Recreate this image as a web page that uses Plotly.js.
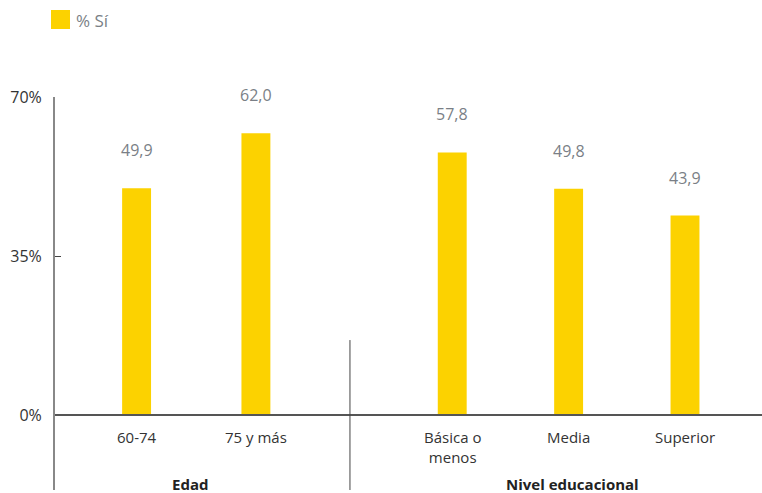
<!DOCTYPE html>
<html>
<head>
<meta charset="utf-8">
<script src="https://cdn.plot.ly/plotly-3.0.1.min.js"></script>
<style>
  html, body { margin: 0; padding: 0; background: #fff; }
  #chart { width: 762px; height: 493px; }
</style>
</head>
<body>
<div id="chart"></div>
<script>
// Share answering "Sí", by age group and by education level
const categories = ['60-74', '75 y más', 'Básica o<br>menos', 'Media', 'Superior'];
const values = [49.9, 62.0, 57.8, 49.8, 43.9];
const groupNames = ['Edad', 'Nivel educacional'];
const groupOf = [0, 0, 1, 1, 1];
const seriesName = '% Sí';
const yTickVals = [0, 35, 70];
const yTickText = ['0%', '35%', '70%'];

// layout geometry (slot positions along the x axis, with a gap between groups)
const xPos = [0, 1.015, 2.685, 3.675, 4.665];
const groupShift = [-6, 4];
const W = 762, H = 493;
const M = { l: 55, r: 0, t: 97, b: 3 };
const xRange = [-0.694, 5.32];
const yRange = [-16.5, 70];

const plotW = W - M.l - M.r, plotH = H - M.t - M.b;
const paperX = px => (px - M.l) / plotW;
const paperY = py => (H - M.b - py) / plotH;

const YELLOW = '#FCD200';
const FONT = 'Open Sans, sans-serif';

const fmt = v => v.toFixed(1).replace('.', ',');

const trace = {
  type: 'bar',
  x: xPos,
  y: values,
  width: 0.246,
  name: seriesName,
  marker: { color: YELLOW, line: { width: 0 } },
  hoverinfo: 'skip',
  showlegend: false
};

const annotations = [];

// value labels above bars
values.forEach((v, i) => {
  annotations.push({
    x: xPos[i], y: v, xref: 'x', yref: 'y',
    text: fmt(v), showarrow: false,
    yanchor: 'bottom', yshift: 25,
    font: { family: FONT, size: 16, color: '#7a7f86' }
  });
});

// category labels below the zero line
categories.forEach((c, i) => {
  annotations.push({
    x: xPos[i], y: 0, xref: 'x', yref: 'y',
    text: c, showarrow: false,
    yanchor: 'top', yshift: -10,
    font: { family: FONT, size: 15, color: '#333' }
  });
});

// group labels, centred under their categories
groupNames.forEach((g, gi) => {
  const xs = xPos.filter((_, i) => groupOf[i] === gi);
  const mid = (Math.min(...xs) + Math.max(...xs)) / 2;
  annotations.push({
    x: mid, y: paperY(484), xref: 'x', yref: 'paper',
    text: '<b>' + g + '</b>', showarrow: false,
    yanchor: 'middle', xshift: groupShift[gi],
    font: { family: FONT, size: 15, color: '#222' }
  });
});

// legend text
annotations.push({
  x: paperX(74), y: paperY(20), xref: 'paper', yref: 'paper',
  text: seriesName, showarrow: false,
  xanchor: 'left', yanchor: 'middle',
  font: { family: FONT, size: 17, color: '#7a7f86' }
});

const shapes = [
  // zero baseline
  { type: 'line', xref: 'paper', yref: 'y', x0: 0, x1: 1, y0: 0, y1: 0,
    line: { color: '#555', width: 2 } },
  // divider between the two groups
  { type: 'line', xref: 'x', yref: 'y', x0: 1.815, x1: 1.815, y0: yRange[0], y1: 16.5,
    line: { color: '#444', width: 1 } },
  // legend swatch
  { type: 'rect', xref: 'paper', yref: 'paper',
    x0: paperX(51), x1: paperX(70), y0: paperY(29), y1: paperY(10),
    fillcolor: YELLOW, line: { width: 0 } }
];

const layout = {
  width: W, height: H,
  margin: M,
  paper_bgcolor: '#fff', plot_bgcolor: '#fff',
  showlegend: false,
  font: { family: FONT },
  xaxis: {
    range: xRange, showgrid: false, zeroline: false, showline: false,
    showticklabels: false, ticks: '', fixedrange: true
  },
  yaxis: {
    range: yRange, showgrid: false, zeroline: false,
    showline: true, linecolor: '#888', linewidth: 2,
    tickvals: yTickVals, ticktext: yTickText,
    ticks: 'inside', ticklen: 6, tickwidth: 1, tickcolor: '#444',
    ticklabelstandoff: 8,
    tickfont: { family: FONT, size: 16, color: '#333' },
    fixedrange: true
  },
  annotations: annotations,
  shapes: shapes
};

Plotly.newPlot('chart', [trace], layout, { displayModeBar: false, staticPlot: true });
</script>
</body>
</html>
